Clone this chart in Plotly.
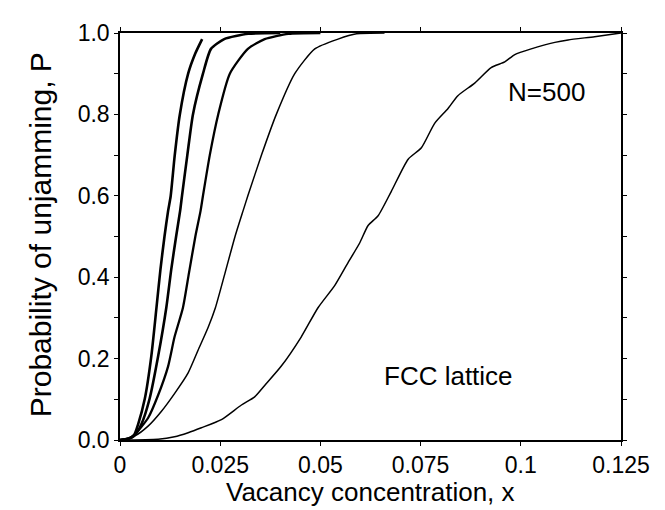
import plotly.graph_objects as go

# Vacancy concentration (x) and probability of unjamming (P)
x_c1 = [0.0, 0.002, 0.0035, 0.0045, 0.0062, 0.0078, 0.0091, 0.0101, 0.0111, 0.0120, 0.01264, 0.01364, 0.0149, 0.0170, 0.0188, 0.0205]
p_c1 = [0.0, 0.003, 0.012, 0.038, 0.102, 0.205, 0.325, 0.42, 0.50, 0.563, 0.599, 0.698, 0.798, 0.90, 0.95, 0.985]

x_c2 = [0.0, 0.002, 0.0035, 0.0053, 0.0074, 0.0095, 0.01155, 0.0128, 0.0140, 0.0150, 0.01547, 0.0168, 0.0182, 0.0207, 0.0227, 0.026, 0.032, 0.040]
p_c2 = [0.0, 0.003, 0.010, 0.038, 0.102, 0.205, 0.325, 0.42, 0.50, 0.563, 0.60, 0.70, 0.80, 0.90, 0.961, 0.985, 0.998, 1.0]

x_c3 = [0.0, 0.002, 0.0037, 0.0070, 0.0095, 0.0120, 0.0136, 0.0157, 0.0172, 0.0188, 0.0201, 0.0207, 0.0224, 0.0245, 0.0274, 0.0319, 0.0361, 0.042, 0.050]
p_c3 = [0.0, 0.002, 0.014, 0.054, 0.110, 0.181, 0.253, 0.325, 0.41, 0.50, 0.563, 0.60, 0.70, 0.80, 0.90, 0.961, 0.985, 0.998, 1.0]

x_c4 = [0.0, 0.0037, 0.0070, 0.0103, 0.0136, 0.0170, 0.0195, 0.0220, 0.0238, 0.0262, 0.0287, 0.0307, 0.0319, 0.0353, 0.0390, 0.0436, 0.0486, 0.0544, 0.059, 0.066]
p_c4 = [0.0, 0.010, 0.034, 0.070, 0.114, 0.165, 0.221, 0.277, 0.325, 0.41, 0.50, 0.563, 0.60, 0.70, 0.80, 0.90, 0.961, 0.985, 0.998, 1.0]

x_c5 = [0.0, 0.0095, 0.0136, 0.0170, 0.0203, 0.0253, 0.0303, 0.0336, 0.0361, 0.0402, 0.0452, 0.0494, 0.0536, 0.0569, 0.0598, 0.0619, 0.0644, 0.0677, 0.0719, 0.0752, 0.0785, 0.0818, 0.0843, 0.0885, 0.0926, 0.0960, 0.0985, 0.1026, 0.1085, 0.1118, 0.1184, 0.125]
p_c5 = [0.0, 0.002, 0.008, 0.018, 0.030, 0.050, 0.086, 0.106, 0.134, 0.181, 0.253, 0.325, 0.380, 0.436, 0.484, 0.527, 0.551, 0.611, 0.690, 0.718, 0.778, 0.814, 0.846, 0.877, 0.915, 0.929, 0.947, 0.961, 0.977, 0.983, 0.991, 1.0]

x_tickvals = [0, 0.025, 0.05, 0.075, 0.1, 0.125]
x_ticktext = ["0", "0.025", "0.05", "0.075", "0.1", "0.125"]
y_tickvals = [0.0, 0.2, 0.4, 0.6, 0.8, 1.0]
y_ticktext = ["0.0", "0.2", "0.4", "0.6", "0.8", "1.0"]

x_title = "Vacancy concentration, x"
y_title = "Probability of unjamming, P"

series = [(x_c1, p_c1, 2.6), (x_c2, p_c2, 2.6), (x_c3, p_c3, 2.3), (x_c4, p_c4, 1.5), (x_c5, p_c5, 1.5)]

FONT = "Liberation Sans, Arial, Helvetica, sans-serif"

fig = go.Figure()
for xs, ps, w in series:
    fig.add_trace(go.Scatter(x=xs, y=ps, mode="lines",
                             line=dict(color="black", width=w, shape="spline", smoothing=0.6),
                             showlegend=False, hoverinfo="skip"))

fig.add_annotation(x=0.1065, y=0.854, text="N=500", showarrow=False,
                   font=dict(family=FONT, size=26, color="black"))
fig.add_annotation(x=0.082, y=0.158, text="FCC lattice", showarrow=False,
                   font=dict(family=FONT, size=26, color="black"))

# axis titles
fig.add_annotation(xref="paper", yref="paper", x=0.5, y=-0.1277, xanchor="center", yanchor="middle",
                   text=x_title, showarrow=False, font=dict(family=FONT, size=26, color="black"))
fig.add_annotation(xref="paper", yref="paper", x=-0.158, y=0.505, xanchor="center", yanchor="middle",
                   text=y_title, textangle=-90, showarrow=False,
                   font=dict(family=FONT, size=30, color="black"))

axis_common = dict(showgrid=False, zeroline=False, showline=True, linecolor="black",
                   linewidth=1.5, mirror="ticks", ticks="outside", ticklen=4,
                   tickwidth=1.2, tickcolor="black",
                   tickfont=dict(family=FONT, size=23, color="black"))

fig.update_layout(
    width=665, height=510,
    margin=dict(l=112, r=52, t=17, b=78),
    paper_bgcolor="white", plot_bgcolor="white",
    font=dict(family=FONT, color="black"),
    xaxis=dict(range=[0, 0.125], tickvals=x_tickvals, ticktext=x_ticktext, **axis_common),
    yaxis=dict(range=[0, 1.0], tickvals=y_tickvals, ticktext=y_ticktext,
               minor=dict(dtick=0.1, tick0=0, ticks="outside", ticklen=4, tickwidth=1.2, tickcolor="black"),
               **axis_common),
)

fig.write_html("out.html")
